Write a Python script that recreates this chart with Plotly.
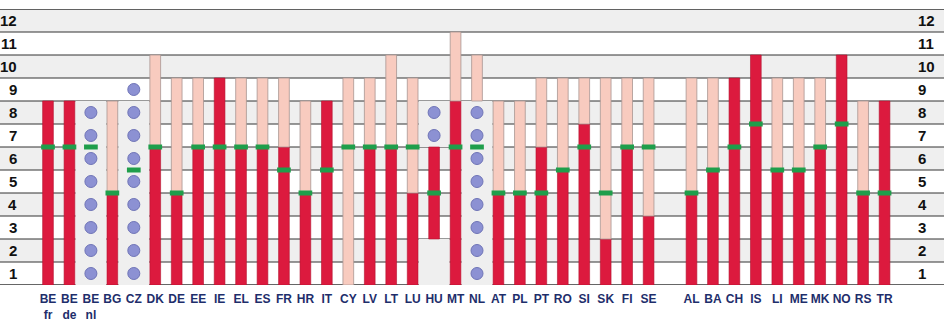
import plotly.graph_objects as go

# Countries in display order; an empty slot separates EU members from the others
countries = ["BE<br>fr", "BE<br>de", "BE<br>nl", "BG", "CZ", "DK", "DE", "EE", "IE", "EL",
             "ES", "FR", "HR", "IT", "CY", "LV", "LT", "LU", "HU", "MT",
             "NL", "AT", "PL", "PT", "RO", "SI", "SK", "FI", "SE",
             "AL", "BA", "CH", "IS", "LI", "ME", "MK", "NO", "RS", "TR"]
slots = list(range(29)) + list(range(30, 40))

# Full-time compulsory education (years, from / to)
full_start = [0, 0, None, 0, None, 0, 0, 0, 0, 0,
              0, 0, 0, 0, None, 0, 0, 0, 2, 0,
              None, 0, 0, 0, 0, 0, 0, 0, 0,
              0, 0, 0, 0, 0, 0, 0, 0, 0, 0]
full_end = [8, 8, None, 4, None, 6, 4, 6, 9, 6,
            6, 6, 4, 8, None, 6, 6, 4, 6, 8,
            None, 4, 4, 6, 5, 7, 2, 6, 3,
            4, 5, 9, 10, 5, 5, 6, 10, 4, 8]

# Part-time compulsory education / training (years, from / to)
part_start = [None, None, None, 4, None, 6, 4, 6, None, 6,
              6, 6, 4, None, 0, 6, 6, 4, None, 8,
              8, 4, 4, 6, 5, 7, 2, 6, 3,
              4, 5, None, None, 5, 5, 6, None, 4, None]
part_end = [None, None, None, 8, None, 10, 9, 9, None, 9,
            9, 9, 8, None, 9, 9, 10, 9, None, 11,
            10, 8, 8, 9, 9, 9, 9, 9, 9,
            9, 9, None, None, 9, 9, 9, None, 8, None]

# End of the first stage (green marks)
milestone = [6, 6, 6, 4, 5, 6, 4, 6, 6, 6,
             6, 5, 4, 5, 6, 6, 6, 6, 4, 6,
             6, 4, 4, 4, 5, 6, 4, 6, 6,
             4, 5, 6, 7, 5, 5, 6, 7, 4, 4]

# Years of flexible duration (one circle per year)
flex_start = [None, None, 0, None, 0, None, None, None, None, None,
              None, None, None, None, None, None, None, None, 6, None,
              0, None, None, None, None, None, None, None, None,
              None, None, None, None, None, None, None, None, None, None]
flex_end = [None, None, 8, None, 9, None, None, None, None, None,
            None, None, None, None, None, None, None, None, 8, None,
            8, None, None, None, None, None, None, None, None,
            None, None, None, None, None, None, None, None, None, None]

# Shaded cell blocks behind the flexible-duration columns: (country, from, to)
shaded_blocks = [("BE<br>nl", 0, 8), ("CZ", 0, 8), ("HU", 0, 2), ("HU", 6, 8),
                 ("MT", 6, 8), ("NL", 0, 8)]

year_labels = ["1", "2", "3", "4", "5", "6", "7", "8", "9", "10", "11", "12"]

RED = "#DC1A3E"
PINK = "#F8CBBF"
GREEN = "#1F9E4B"
BLUE = "#8C91D3"
SHADE = "#EFEFEF"
NARROW = "Liberation Sans Narrow, Arial Narrow, Liberation Sans, Arial, sans-serif"

fig = go.Figure()

# Full-time bars
fx, fb, fl = [], [], []
for s, a, b in zip(slots, full_start, full_end):
    if a is not None:
        fx.append(s); fb.append(a); fl.append(b - a)
fig.add_trace(go.Bar(x=fx, y=fl, base=fb, width=0.5,
                     marker=dict(color=RED, line=dict(color="#B3122F", width=0.6)),
                     name="Full-time", showlegend=False))

# Part-time bars
px_, pb, pl = [], [], []
for s, a, b in zip(slots, part_start, part_end):
    if a is not None:
        px_.append(s); pb.append(a); pl.append(b - a)
fig.add_trace(go.Bar(x=px_, y=pl, base=pb, width=0.5,
                     marker=dict(color=PINK, line=dict(color="#A89592", width=0.8)),
                     name="Part-time", showlegend=False))

# Green marks
gx, gy = [], []
for s, m in zip(slots, milestone):
    gx += [s - 0.32, s + 0.32, None]
    gy += [m, m, None]
fig.add_trace(go.Scatter(x=gx, y=gy, mode="lines",
                         line=dict(color=GREEN, width=5),
                         hoverinfo="skip", showlegend=False))

# Flexible years as circles
cx, cy = [], []
for s, a, b in zip(slots, flex_start, flex_end):
    if a is not None:
        for yr in range(a, b):
            cx.append(s); cy.append(yr + 0.5)
fig.add_trace(go.Scatter(x=cx, y=cy, mode="markers",
                         marker=dict(size=12, color=BLUE,
                                     line=dict(color="#6E73B6", width=1)),
                         hoverinfo="skip", showlegend=False))

shapes = []
# Alternating row stripes
for r in range(1, 13):
    if r % 2 == 0:
        shapes.append(dict(type="rect", xref="paper", yref="y", x0=0, x1=1,
                           y0=r - 1, y1=r, fillcolor=SHADE, line=dict(width=0),
                           layer="below"))
# Shaded blocks
pos = dict(zip(countries, slots))
for name, a, b in shaded_blocks:
    s = pos[name]
    shapes.append(dict(type="rect", xref="x", yref="y", x0=s - 0.72, x1=s + 0.72,
                       y0=a, y1=b, fillcolor=SHADE, line=dict(width=0),
                       layer="below"))
# Row rules
for r in range(0, 13):
    shapes.append(dict(type="line", xref="paper", yref="y", x0=0, x1=1,
                       y0=r, y1=r,
                       line=dict(color="#333333", width=1.6 if r in (0, 12) else 1),
                       layer="below"))

annotations = []
for i, lab in enumerate(year_labels):
    for xp, anchor in ((19 / 944, "right"), (916 / 944, "left")):
        annotations.append(dict(xref="paper", yref="y", x=xp, y=i + 0.5,
                                text=lab, showarrow=False, xanchor=anchor,
                                yanchor="middle",
                                font=dict(family=NARROW, size=15, color="#111111",
                                          weight="bold")))

fig.update_layout(
    width=944, height=324,
    margin=dict(l=0, r=0, t=9, b=39),
    paper_bgcolor="white", plot_bgcolor="white",
    barmode="overlay",
    shapes=shapes, annotations=annotations,
    xaxis=dict(range=[-48 / 21.45, (944 - 48) / 21.45], tickvals=slots,
               ticktext=countries, showgrid=False, zeroline=False,
               showline=False, ticks="", ticklabelstandoff=5,
               tickfont=dict(family=NARROW, size=12, color="#1E2E6B",
                             weight="bold")),
    yaxis=dict(range=[0, 12], showgrid=False, zeroline=False, showline=False,
               showticklabels=False),
)

fig.write_html("out.html")
